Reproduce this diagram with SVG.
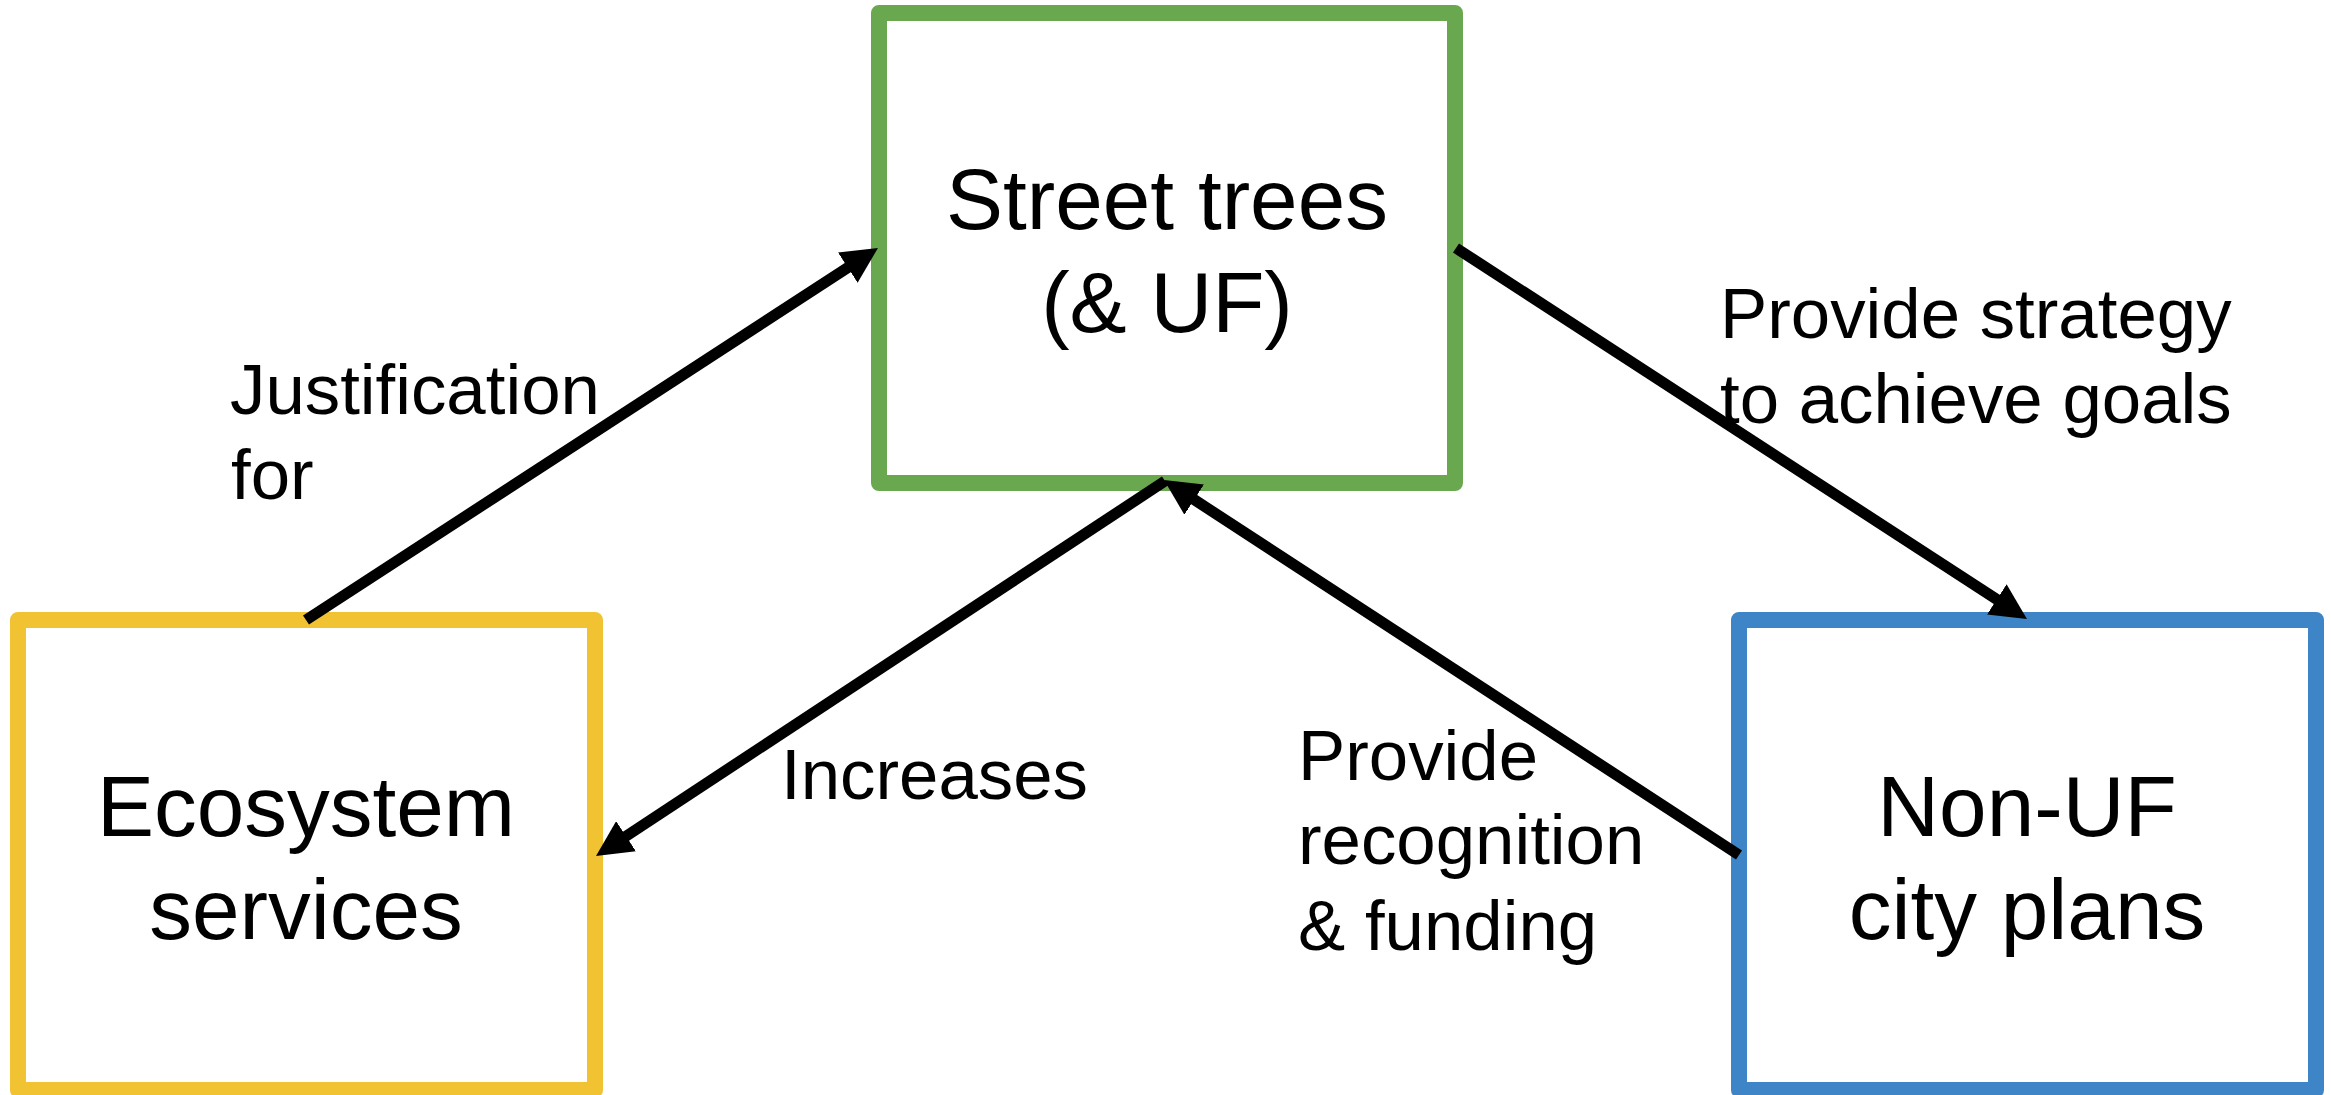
<svg xmlns="http://www.w3.org/2000/svg" width="2331" height="1095" viewBox="0 0 2331 1095">
  <style>
    .box { fill: #ffffff; stroke-width: 16; stroke-linejoin: round; }
    .main { font-family: "Liberation Sans", Arial, sans-serif; font-size: 85.5px; fill: #000000; text-anchor: middle; }
    .lbl { font-family: "Liberation Sans", Arial, sans-serif; font-size: 70.8px; fill: #000000; }
    .conn { stroke: #000000; stroke-width: 11; fill: none; marker-end: url(#head); }
  </style>
  <defs>
    <marker id="head" viewBox="0 0 36 36" markerUnits="userSpaceOnUse" markerWidth="36" markerHeight="36" refX="16" refY="18" orient="auto">
      <path d="M0,0 L36,18 L0,36 z" fill="#000000"/>
    </marker>
  </defs>
  <rect width="2331" height="1095" fill="#ffffff"/>

  <g id="street-trees">
    <rect class="box" x="879" y="13" width="576" height="470" stroke="#6aa84f"/>
    <text class="main" x="1167" y="229">Street trees</text>
    <text class="main" x="1167" y="332">(&amp; UF)</text>
  </g>

  <g id="ecosystem-services">
    <rect class="box" x="18" y="620" width="577" height="470" stroke="#f1c232"/>
    <text class="main" x="306" y="836">Ecosystem</text>
    <text class="main" x="306" y="939">services</text>
  </g>

  <g id="non-uf-city-plans">
    <rect class="box" x="1739" y="620" width="577" height="470" stroke="#3d85c6"/>
    <text class="main" x="2027" y="836">Non-UF</text>
    <text class="main" x="2027" y="939">city plans</text>
  </g>

  <g id="connectors">
    <line class="conn" x1="306" y1="620" x2="861.2" y2="258.9"/>
    <line class="conn" x1="1456" y1="248" x2="2010.2" y2="608.1"/>
    <line class="conn" x1="1165" y1="481" x2="612.7" y2="845"/>
    <line class="conn" x1="1739" y1="855" x2="1180.8" y2="490.9"/>
  </g>

  <g id="labels">
    <text class="lbl" x="230" y="414">Justification</text>
    <text class="lbl" x="231" y="499">for</text>
    <text class="lbl" x="781" y="799">Increases</text>
    <text class="lbl" x="1298" y="780">Provide</text>
    <text class="lbl" x="1298" y="864">recognition</text>
    <text class="lbl" x="1298" y="950">&amp; funding</text>
    <text class="lbl" x="1720" y="338">Provide strategy</text>
    <text class="lbl" x="1720" y="423">to achieve goals</text>
  </g>
</svg>
